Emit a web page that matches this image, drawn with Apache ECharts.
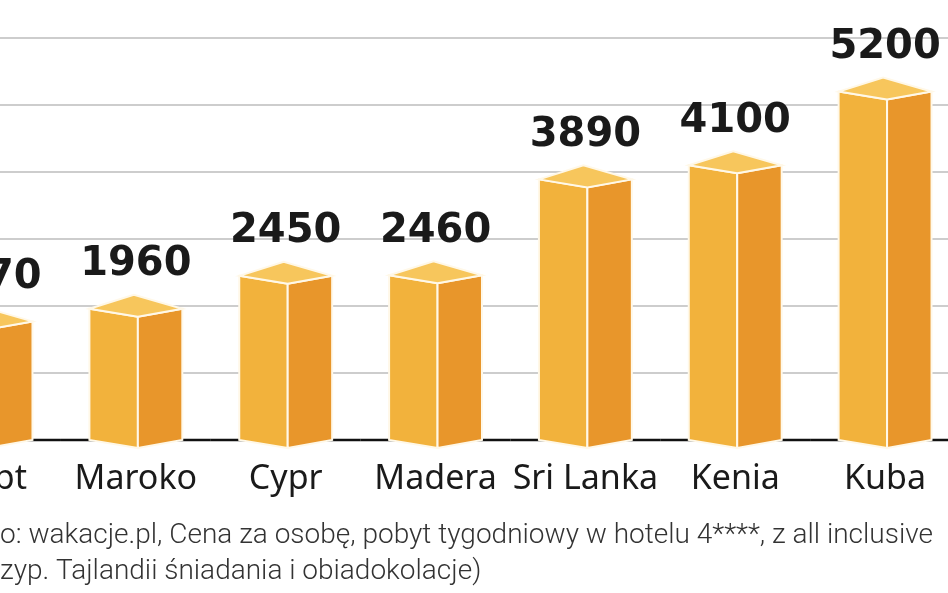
<!DOCTYPE html>
<html><head><meta charset="utf-8">
<script src="https://cdn.jsdelivr.net/npm/echarts@6/dist/echarts.min.js"></script>
<style>html,body{margin:0;padding:0;background:#fff}#c{width:948px;height:593px}</style>
</head><body><div id="c"></div>
<script>
const categories = ['Egipt','Maroko','Cypr','Madera','Sri Lanka','Kenia','Kuba'];
const values = [1770,1960,2450,2460,3890,4100,5200];
const note1 = 'o: wakacje.pl, Cena za osobę, pobyt tygodniowy w hotelu 4****, z all inclusive';
const note2 = 'zyp. Tajlandii śniadania i obiadokolacje)';

const chart = echarts.init(document.getElementById('c'));
chart.setOption({
  animation:false,
  grid:{left:0,right:0,top:38,bottom:153},
  xAxis:{type:'value',min:0.0933,max:6.42,
    axisLine:{show:false},axisTick:{show:false},axisLabel:{show:false},splitLine:{show:false}},
  yAxis:{type:'value',min:0,max:6000,interval:1000,
    axisLabel:{show:false},axisLine:{show:false},axisTick:{show:false},
    splitLine:{lineStyle:{color:'#bdbdbd',width:1.5}}},
  series:[{
    type:'custom',
    data:values.map((v,i)=>[i,v]),
    clip:false,
    z:5,
    renderItem:function(params,api){
      const i=api.value(0), v=api.value(1);
      const top=api.coord([i,v]), bot=api.coord([i,0]);
      const x=top[0], yT=top[1], yB=bot[1];
      const step=api.size([1,0])[0];
      const hw=step*0.31, mid=x+2, dy=8;
      const white={stroke:'#fff8e8',lineWidth:2};
      return {type:'group',children:[
        {type:'line',shape:{x1:x-step/2,y1:yB,x2:x+step/2,y2:yB},style:{stroke:'#111',lineWidth:2.5},z2:0},
        {type:'polygon',shape:{points:[[x-hw,yT],[mid,yT+dy],[mid,yB+dy],[x-hw,yB]]},style:Object.assign({fill:'#F2B23C'},white),z2:2},
        {type:'polygon',shape:{points:[[mid,yT+dy],[x+hw,yT],[x+hw,yB],[mid,yB+dy]]},style:Object.assign({fill:'#E8962B'},white),z2:2},
        {type:'polygon',shape:{points:[[x-hw,yT],[mid,yT+dy],[x+hw,yT],[x-2,yT-14]]},style:Object.assign({fill:'#F7C65C'},white),z2:3},
        {type:'text',style:{text:String(v),x:x,y:yT-24,align:'center',verticalAlign:'bottom',
          font:'bold 40px "DejaVu Sans"',fill:'#1a1a1a'},z2:4},
        {type:'text',style:{text:categories[i],x:x,y:yB+22,align:'center',verticalAlign:'top',
          font:'34px "Noto Sans"',fill:'#1a1a1a'},z2:4}
      ]};
    }
  }],
  graphic:[
    {type:'text',left:0,top:522,style:{text:note1,font:'300 28px Roboto',fill:'#333'}},
    {type:'text',left:0,top:558,style:{text:note2,font:'300 28px Roboto',fill:'#333'}}
  ]
});
</script></body></html>
